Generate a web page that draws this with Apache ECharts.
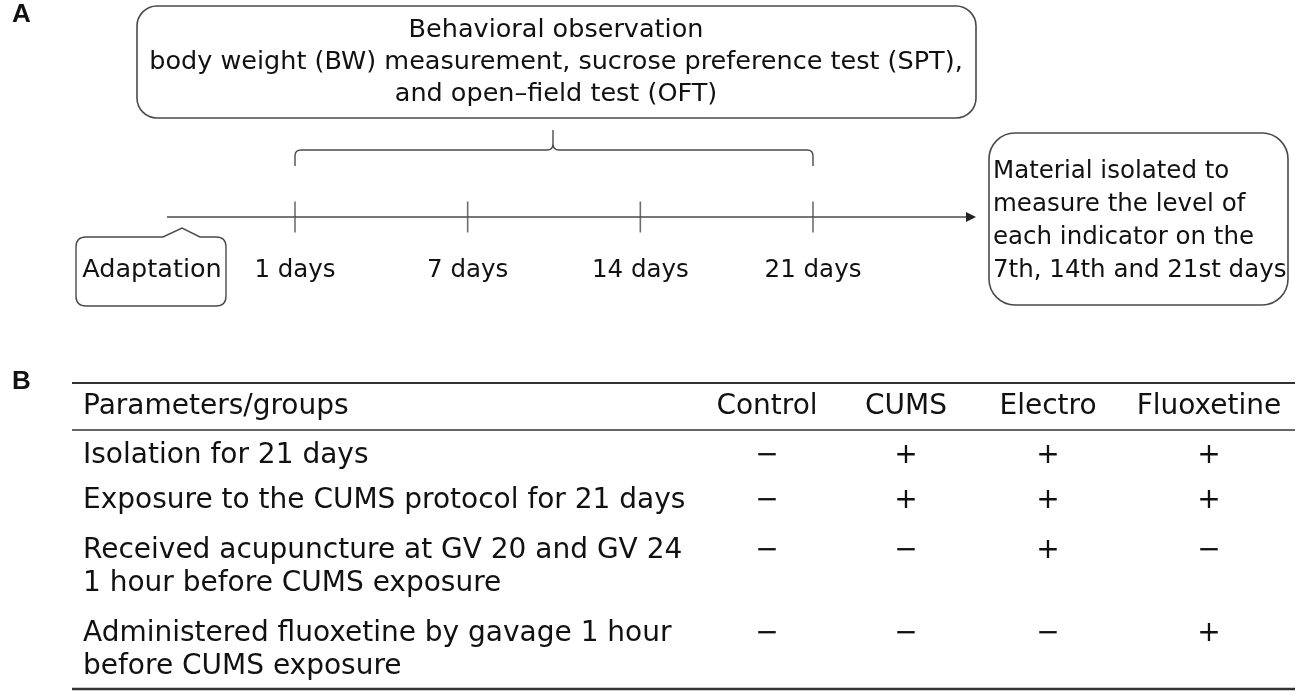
<!DOCTYPE html>
<html lang="en" style="height: 100%">
<head>
    <meta charset="UTF-8">
    <title>Experimental design</title>
    <script type="text/javascript" src="https://cdn.jsdelivr.net/npm/echarts@6/dist/echarts.min.js"></script>
</head>
<body style="height: 100%; margin: 0; background: #fff">
    <div id="container" style="width: 1300px; height: 698px"></div>
    <script type="text/javascript">
    // timeline
    var days = ['1 days', '7 days', '14 days', '21 days'];
    var tickAt = [0, 1, 2, 3];
    var observation = ['Behavioral observation',
        'body weight (BW) measurement, sucrose preference test (SPT),',
        'and open\u2013field test (OFT)'];
    var material = ['Material isolated to', 'measure the level of',
        'each indicator on the', '7th, 14th and 21st days'];

    // table
    var groups = ['Control', 'CUMS', 'Electro', 'Fluoxetine'];
    var params = [
        ['Isolation for 21 days'],
        ['Exposure to the CUMS protocol for 21 days'],
        ['Received acupuncture at GV 20 and GV 24', '1 hour before CUMS exposure'],
        ['Administered fluoxetine by gavage 1 hour', 'before CUMS exposure']
    ];
    var signs = [
        ['\u2212', '+', '+', '+'],
        ['\u2212', '+', '+', '+'],
        ['\u2212', '\u2212', '+', '\u2212'],
        ['\u2212', '\u2212', '\u2212', '+']
    ];

    var FONT = 'DejaVu Sans';
    var FS = 25.5;      // top box
    var FS_T = 28;      // table
    var FS_S = 24.5;    // day labels, side box
    var LINE = '#4a4a4a';
    var TXT = '#111';

    var colX = [767, 906, 1048, 1209];
    var rowY = [456, 501, 551, 634];
    var lineGap = 33;

    function txt(x, y, s, align, size) {
        return {
            type: 'text', x: x, y: y, silent: true,
            style: {
                text: s, fill: TXT, fontSize: size || FS, fontFamily: FONT,
                textAlign: align || 'left', textVerticalAlign: 'middle'
            }
        };
    }

    var g = [];

    // observation box
    g.push({ type: 'rect', shape: { x: 137, y: 6, width: 839, height: 112, r: 20 },
        style: { fill: 'none', stroke: LINE, lineWidth: 1.6 } });
    observation.forEach(function (s, i) { g.push(txt(556, 30 + i * 32, s, 'center')); });

    // time arrow
    g.push({ type: 'line', shape: { x1: 167, y1: 217, x2: 968, y2: 217 },
        style: { stroke: LINE, lineWidth: 1.4 } });
    g.push({ type: 'polygon', shape: { points: [[966, 212], [976, 217], [966, 222]] },
        style: { fill: '#222' } });

    g.push(txt(152, 270, 'Adaptation', 'center'));

    // material box
    g.push({ type: 'rect', shape: { x: 989, y: 133, width: 299, height: 172, r: 26 },
        style: { fill: 'none', stroke: LINE, lineWidth: 1.6 } });
    material.forEach(function (s, i) { g.push(txt(993, 172 + i * 33, s, 'left', FS_S)); });

    // table rules
    g.push({ type: 'line', shape: { x1: 72, y1: 383, x2: 1295, y2: 383 }, style: { stroke: '#333', lineWidth: 2 } });
    g.push({ type: 'line', shape: { x1: 72, y1: 430, x2: 1295, y2: 430 }, style: { stroke: '#333', lineWidth: 1.5 } });
    g.push({ type: 'line', shape: { x1: 72, y1: 689, x2: 1295, y2: 689 }, style: { stroke: '#333', lineWidth: 2.5 } });

    g.push(txt(83, 407, 'Parameters/groups', 'left', FS_T));
    groups.forEach(function (s, j) { g.push(txt(colX[j], 407, s, 'center', FS_T)); });
    params.forEach(function (lines, i) {
        lines.forEach(function (s, k) { g.push(txt(83, rowY[i] + k * lineGap, s, 'left', FS_T)); });
        signs[i].forEach(function (s, j) { g.push(txt(colX[j], rowY[i], s, 'center', FS_T)); });
    });

    // brace over the observation days and the speech-bubble outline
    var outlines = [
        'M295,166L295,156Q295,150 301,150L547,150Q553,150 553,144L553,130' +
        'M553,144Q553,150 559,150L807,150Q813,150 813,156L813,166',
        'M86,237L163,237L182,228L200,237L216,237Q226,237 226,247L226,296Q226,306 216,306' +
        'L86,306Q76,306 76,296L76,247Q76,237 86,237Z'
    ];

    var panelStyle = { color: '#111', fontSize: 26, fontWeight: 'bold', fontFamily: 'Arial' };

    var myChart = echarts.init(document.getElementById('container'));
    var option = {
        animation: false,
        title: [
            { text: 'A', left: 12, top: 2, padding: 0, textStyle: panelStyle },
            { text: 'B', left: 12, top: 369, padding: 0, textStyle: panelStyle }
        ],
        grid: { left: 295, right: 487, top: 150, bottom: 481 },
        xAxis: {
            type: 'category', data: days, boundaryGap: false,
            axisLine: { show: false }, axisTick: { show: false }, splitLine: { show: false },
            axisLabel: { margin: 41, color: TXT, fontFamily: FONT, fontSize: FS_S }
        },
        yAxis: { type: 'value', min: 0, max: 1, show: false },
        series: [{
            type: 'scatter', clip: false, silent: true,
            symbol: 'rect', symbolSize: [1.6, 31],
            itemStyle: { color: LINE },
            data: tickAt.map(function (d) { return [d, 0]; })
        }, {
            type: 'custom', coordinateSystem: 'none', silent: true,
            data: [0, 1],
            renderItem: function (params) {
                return {
                    type: 'path',
                    shape: { pathData: outlines[params.dataIndex] },
                    style: { fill: 'none', stroke: LINE, lineWidth: 1.4 }
                };
            }
        }],
        graphic: g
    };
    myChart.setOption(option);
    </script>
</body>
</html>
